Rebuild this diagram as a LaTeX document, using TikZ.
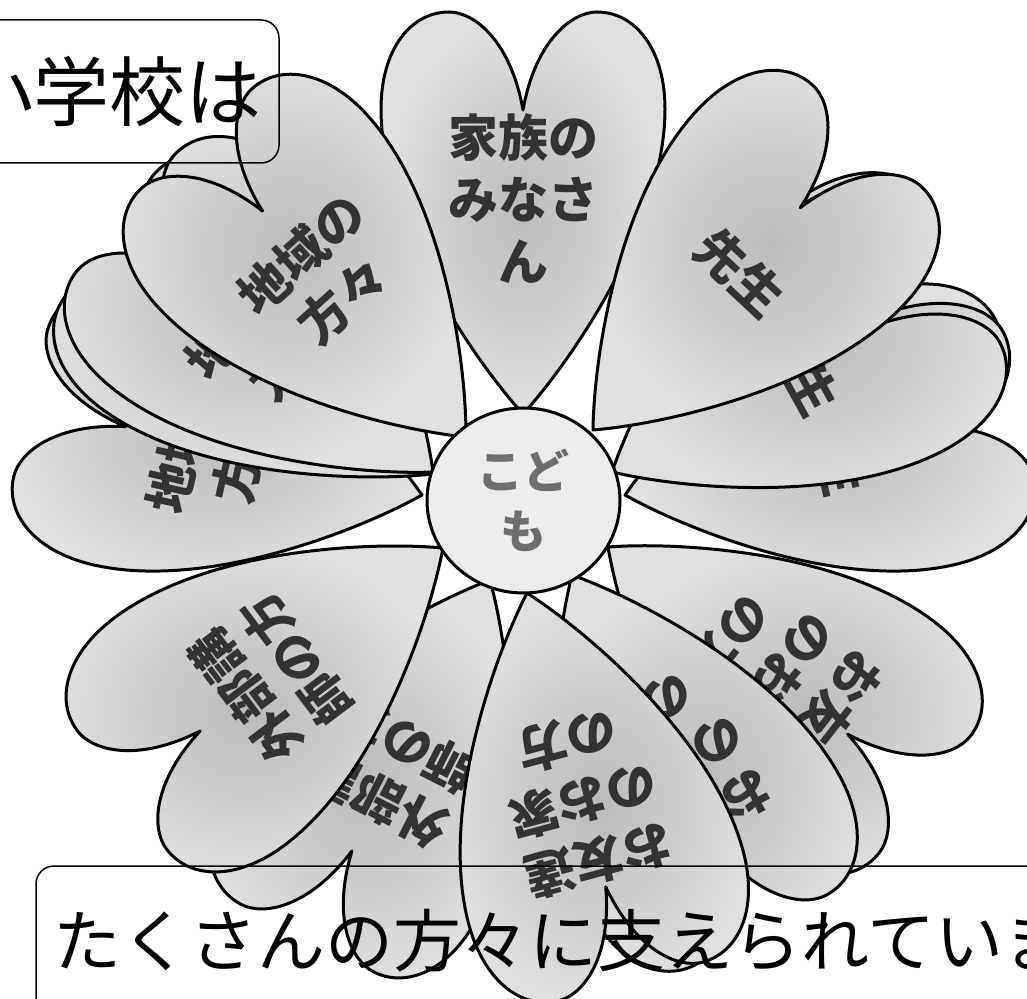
\documentclass[tikz,border=0pt]{standalone}
\usepackage{fontspec}
\newfontfamily\jp{Noto Sans CJK JP}
\usetikzlibrary{shapes.geometric}
\definecolor{hin}{gray}{0.73}
\definecolor{hout}{gray}{0.88}
\definecolor{txt}{HTML}{333333}
\definecolor{ctxt}{HTML}{6E6E6E}
\definecolor{cfill}{HTML}{ECECEC}
\tikzset{
  heartfill/.style={draw=black, line width=1.5pt, line join=round, inner color=hin, outer color=hout},
  hearttext/.style={text=txt, align=center, inner sep=0pt, font=\jp\bfseries\fontsize{25}{31}\selectfont},
  textbox/.style={draw=black, line width=0.75pt, rounded corners=9pt, inner sep=0pt, text=black},
  centre/.style={ellipse, draw=black, line width=1.5pt, fill=cfill, inner sep=0pt, text=ctxt, align=center, font=\jp\bfseries\fontsize{23}{30}\selectfont}
}
\newcommand{\heartpath}{(0,0) .. controls (50,55) and (142,190) .. (142,305) .. controls (142,365) and (112,402) .. (74,402) .. controls (48,402) and (12,372) .. (0,304) .. controls (-12,372) and (-48,402) .. (-74,402) .. controls (-112,402) and (-142,365) .. (-142,305) .. controls (-142,190) and (-50,55) .. (0,0) -- cycle}
\newcommand{\petal}[5]{%
  \begin{scope}[shift={(#2,-#3)}, rotate=#4-90]
    \path[heartfill] \heartpath;
  \end{scope}
  \node[hearttext, rotate=#4-90] (#1) at ([shift={(#4:215)}]#2,-#3) {#5};
}
\begin{document}
\begin{tikzpicture}[x=0.5pt, y=0.5pt]
\useasboundingbox (0,0) rectangle (1027,-999);
\clip (0,0) rectangle (1027,-999);
% petals, back to front
\petal{A}{523}{414}{90}{家族の\\みなさ\\ん}
\petal{D}{625}{495}{13}{先生}
\petal{C}{617}{467}{30}{先生}
\petal{Cb}{612}{472}{29}{先生}
\petal{B}{593}{430}{47}{先生}
\petal{Ea}{608}{547}{-38}{お友達\\のお家\\の方}
\petal{Eb}{572}{575}{-62}{お友達\\のお家\\の方}
\petal{Gb}{490}{580}{-117}{外部講\\師の方}
\petal{F}{527}{593}{-75}{お友達\\のお家\\の方}
\petal{Hc}{422}{495}{167}{地域の\\方々}
\petal{Hbb}{433}{474}{144}{地域の\\方々}
\petal{Hb}{433}{472}{140}{地域の\\方々}
\petal{Ha}{466}{437}{132}{地域の\\方々}
\petal{Ga}{443}{548}{-143}{外部講\\師の方}
% centre
\node[centre, minimum width=96.5pt, minimum height=92.5pt] (kodomo) at (523.5,-500.5) {こど\\も};
% text boxes
\node[textbox, minimum width=169.5pt, minimum height=71.5pt, font=\jp\fontsize{38}{44}\selectfont] (top) at (109.5,-91.5) {小学校は};
\node[textbox, minimum width=560pt, minimum height=75pt, font=\jp\fontsize{34}{40}\selectfont] (bottom) at (596,-941) {たくさんの方々に支えられています};
\end{tikzpicture}
\end{document}
